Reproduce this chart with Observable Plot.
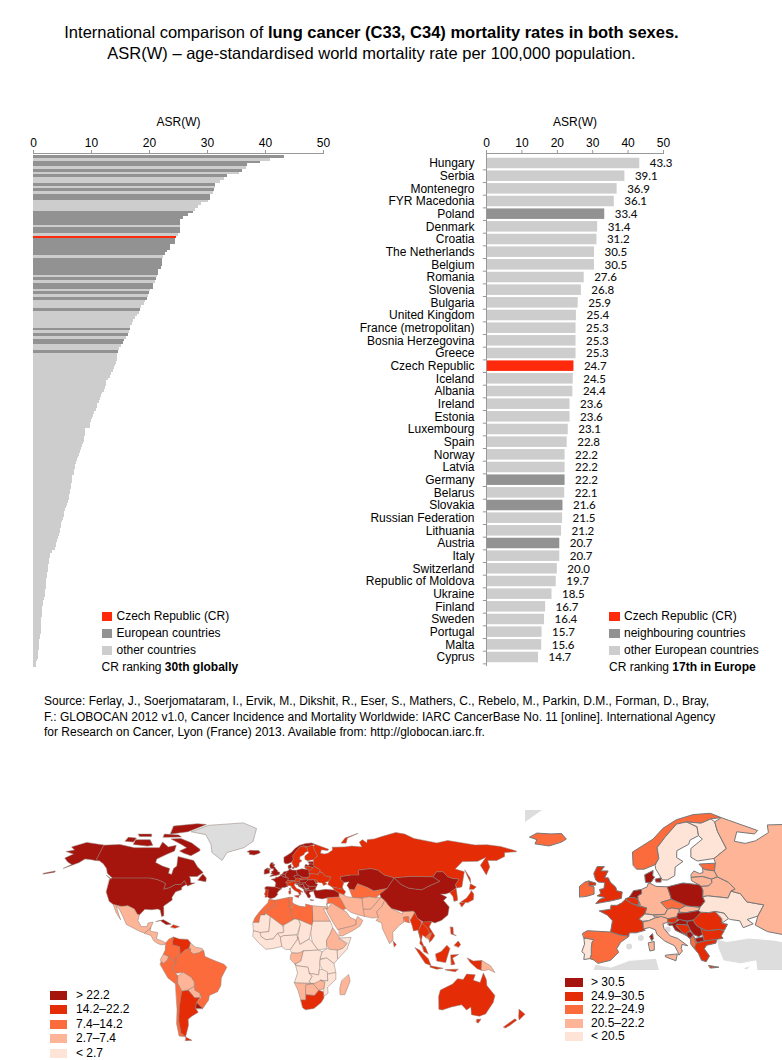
<!DOCTYPE html>
<html>
<head>
<meta charset="utf-8">
<script src="https://cdn.jsdelivr.net/npm/d3@7"></script>
<script src="https://cdn.jsdelivr.net/npm/@observablehq/plot@0.6"></script>
<style>
html,body{margin:0;padding:0;background:#fff}
#page{position:relative;width:782px;height:1060px;overflow:hidden;font-family:"Liberation Sans",Arial,sans-serif;color:#000}
#page svg{position:absolute;background:transparent}
.t{position:absolute;white-space:nowrap}
.sw{position:absolute}
</style>
</head>
<body>
<div id="page"></div>
<script>
// ---------- bar chart data ----------
const countries = ["Hungary","Serbia","Montenegro","FYR Macedonia","Poland","Denmark","Croatia","The Netherlands","Belgium","Romania","Slovenia","Bulgaria","United Kingdom","France (metropolitan)","Bosnia Herzegovina","Greece","Czech Republic","Iceland","Albania","Ireland","Estonia","Luxembourg","Spain","Norway","Latvia","Germany","Belarus","Slovakia","Russian Federation","Lithuania","Austria","Italy","Switzerland","Republic of Moldova","Ukraine","Finland","Sweden","Portugal","Malta","Cyprus"];
const europeRates = [43.3,39.1,36.9,36.1,33.4,31.4,31.2,30.5,30.5,27.6,26.8,25.9,25.4,25.3,25.3,25.3,24.7,24.5,24.4,23.6,23.6,23.1,22.8,22.2,22.2,22.2,22.1,21.6,21.5,21.2,20.7,20.7,20.0,19.7,18.5,16.7,16.4,15.7,15.6,14.7];
const neighbours = ["Poland","Germany","Slovakia","Austria"];
const crName = "Czech Republic";
const globalRates = [43.3,40.9,39.1,36.9,36.8,36.1,35.5,33.4,33.0,32.2,31.4,31.3,31.2,31.0,30.5,30.5,30.1,28.9,28.4,28.0,27.6,26.8,25.9,25.4,25.3,25.3,25.3,25.3,25.0,24.7,24.5,24.4,23.6,23.6,23.1,22.8,22.4,22.2,22.2,22.2,22.1,21.6,21.5,21.3,21.2,21.0,20.7,20.7,20.1,20.0,19.8,19.7,19.3,19.1,18.7,18.5,18.2,17.9,17.5,17.2,17.0,16.8,16.7,16.5,16.4,16.0,15.7,15.6,15.2,14.9,14.7,
14.5,14.4,14.4,14.3,14.2,13.9,13.8,13.4,13.2,13.0,12.6,12.5,12.4,12.2,11.9,11.7,11.5,11.3,11.1,11.0,10.8,10.6,10.4,10.2,10.0,9.9,9.8,9.0,8.9,8.9,8.8,8.8,8.7,8.5,8.3,8.1,7.9,7.8,7.6,7.4,7.2,7.2,7.1,7.1,6.8,6.7,6.7,6.6,6.5,6.4,6.3,6.2,6.2,6.1,5.9,5.7,5.5,5.4,5.3,5.1,5.0,4.9,4.8,4.7,4.6,4.4,4.3,4.2,4.0,3.9,3.8,3.2,3.0,2.9,2.8,2.7,2.6,2.5,2.5,2.4,2.4,2.3,2.3,2.2,2.2,2.1,2.0,2.0,1.9,1.8,1.7,1.6,1.6,1.5,1.5,1.4,1.4,1.4,1.3,1.3,1.3,1.2,1.2,1.1,1.1,1.0,1.0,0.9,0.9,0.8,0.7,0.6,0.5];
const europeRanks = [0,2,3,5,7,10,12,14,15,20,21,22,23,24,26,27,30,31,32,33,34,35,37,38,39,40,41,42,44,46,47,49,51,55,62,64,66,67,70];
const crRank = 29;
const xTicks = [0,10,20,30,40,50];

// ---------- colours ----------
const barKinds = ["cr","eu","other"];
const barColours = ["#ff2a0c","#929292","#cdcdcd"];
const mapClasses = [0,1,2,3,4,5];
const mapColours = ["#a6140e","#e42c07","#fc6b3c","#fdb497","#fee4d7","#dddddd"];

// ---------- legends ----------
const worldLegend = ["> 22.2","14.2–22.2","7.4–14.2","2.7–7.4","< 2.7"];
const europeLegend = ["> 30.5","24.9–30.5","22.2–24.9","20.5–22.2","< 20.5"];

// ---------- map outlines [name, class, ring of lon/lat] ----------
// European countries: [name, world-map class, inset class, ring]
const europeShapes = [
["Iceland",0,2,[[-24,65.5],[-22,66.4],[-18,66.2],[-15,66.3],[-13.6,65],[-15,64.3],[-18.5,63.4],[-22.5,63.9],[-22,64.8]]],
["Ireland",0,2,[[-10,51.6],[-10,54],[-8.5,55],[-7.3,55.3],[-7.3,54.2],[-6,53.9],[-6,52.2],[-8,51.7]]],
["N. Ireland",0,1,[[-7.3,55.2],[-5.5,54.8],[-5.5,54.3],[-7.3,54.2]]],
["Great Britain",0,1,[[-5.5,50],[-3.5,50.3],[-1,50.7],[1.4,51.2],[1.7,52.7],[0.2,53],[0,53.8],[-1.5,55],[-2,56],[-3,56],[-2,57.6],[-4,57.6],[-3,58.6],[-5,58.6],[-6,57],[-5.5,55.5],[-4.8,55],[-3,54.9],[-3.3,53.5],[-4.5,53.3],[-4.2,52.3],[-5.2,51.8],[-3,51.4],[-4.5,51]]],
["France",0,1,[[-1.8,43.4],[-1.2,46],[-2.5,47.3],[-4.7,48.3],[-1.6,48.7],[-1.5,49.6],[0.2,49.6],[1.5,50.2],[2.5,51],[4.2,50],[5.8,49.5],[8.2,49],[7.6,47.6],[6,46.4],[7,45.8],[7,44.2],[7.5,43.8],[5,43.2],[3.2,43.2],[3,42.4],[0.7,42.7]]],
["Corsica",0,0,[[8.6,42.4],[9.4,43],[9.5,41.8],[9.1,41.4]]],
["Spain",0,2,[[-9.2,43.1],[-8,43.7],[-1.8,43.4],[0.7,42.7],[3.1,42.4],[0.8,41],[-0.3,39.5],[0.2,38.7],[-2,36.8],[-5.3,36.1],[-6.4,36.9],[-7.4,37.2],[-7,38.2],[-7,39.6],[-6.8,41],[-8.2,41.9],[-8.9,42]]],
["Portugal",1,4,[[-8.8,41.9],[-8.2,41.9],[-6.3,41.6],[-6.8,41],[-7,39.6],[-7,38.2],[-7.4,37.2],[-9,37],[-8.8,38.3],[-9.5,38.8],[-8.8,40.5]]],
["Netherlands",0,0,[[3.4,51.4],[4,52],[4.8,53],[7,53.3],[7,52.3],[6,51.8],[6,50.8],[5,51.4]]],
["Belgium",0,1,[[2.5,51.1],[3.4,51.4],[5,51.4],[6,50.8],[6.1,50.1],[5.8,49.6],[4.2,50]]],
["Luxembourg",0,2,[[5.8,49.5],[6.1,50.1],[6.5,49.8],[6.3,49.5]]],
["Germany",0,3,[[6,51.8],[7,52.3],[7,53.3],[8.6,53.9],[9,54.8],[10,54.5],[11,54],[14.2,53.9],[14.7,52.2],[15,51],[12.2,50.3],[13.8,48.7],[13,47.5],[10,47.4],[7.6,47.6],[8.2,49],[6.3,49.5],[6.5,49.8],[6,50.8]]],
["Jutland",0,0,[[8.2,55],[8.1,56.7],[10.5,57.7],[10.3,56.5],[10.8,56.2],[9.8,55]]],
["Zealand",0,0,[[11,55.7],[12.6,56],[12.5,55],[11.2,55]]],
["Norway",0,2,[[5,59],[5,62],[8,63.5],[11,65],[14,67.5],[18,69.5],[23,70.7],[28,71],[31,70],[28,69.7],[25,68.7],[21,69],[18,68.5],[14.5,65.5],[12,63],[12.3,60.5],[11,59],[8,58],[6,58]]],
["Sweden",1,4,[[11.2,59],[12.3,60.5],[12,63],[14.5,65.5],[18,68.5],[21,69],[23.8,67.8],[24,65.8],[21.5,64.8],[21,63.8],[17.5,62.3],[17.3,60.7],[19,59.8],[16.7,58.5],[16.4,56.5],[14.3,55.5],[12.9,55.5],[11.3,58]]],
["Finland",1,4,[[21,69],[25,68.7],[28,69.7],[29,69],[29.5,66.8],[31.5,62.8],[27.8,60.5],[23,59.9],[21.3,60.8],[21.5,62.8],[25,65],[24,65.8],[23.8,67.8]]],
["Estonia",0,2,[[23.5,59.2],[28,59.4],[27.5,57.6],[25,57.9],[24.3,58.3]]],
["Latvia",0,3,[[21,56.8],[21.8,57.6],[23.3,57],[24.3,57.2],[24.3,58.3],[25,57.9],[27.5,57.6],[28.2,56.2],[26.5,55.7],[24,56.3],[21,56.1]]],
["Lithuania",1,3,[[21,56.1],[24,56.3],[26.5,55.7],[26.5,54.9],[25.5,54.1],[23.5,54],[22.8,54.4],[21,55.3]]],
["Belarus",1,3,[[23.5,54],[25.5,54.1],[26.5,54.9],[26.5,55.7],[28.2,56.2],[31,55],[32.7,53.4],[31.5,52.9],[30.5,51.3],[25,51.8],[23.6,51.6],[23.8,53]]],
["Poland",0,0,[[14.2,53.9],[18.5,54.8],[22.8,54.4],[23.5,54],[23.8,53],[23.6,51.6],[24.1,50.5],[22.7,49.2],[19,49.4],[15,51],[14.7,52.2]]],
["Czech Republic",0,2,[[12.2,50.3],[15,51],[18.8,49.6],[17,48.7],[15,49],[13.8,48.7]]],
["Slovakia",1,3,[[17,48.7],[18.8,49.5],[22.5,49.1],[22.2,48.4],[18.8,47.9],[17.1,48]]],
["Austria",1,3,[[9.6,47.3],[13,47.5],[13.8,48.7],[15,49],[17,48.7],[16.5,47],[14,46.5],[10.5,46.9]]],
["Switzerland",1,4,[[6,46.4],[7.6,47.6],[9.6,47.4],[10.4,46.7],[8.5,46],[7,45.9]]],
["Italy",1,3,[[7,44.2],[7,45.8],[8.5,46],[10.4,46.7],[12,47],[13.7,46.5],[13.7,45.7],[12.3,45.3],[12.5,44.2],[14,42.5],[16,41.9],[18.5,40.2],[17,40.5],[16.7,39.5],[17,39],[16,38],[15.7,38.9],[15,40.2],[12.5,41.3],[10.5,42.9],[10.2,43.9],[8.8,44.4]]],
["Sicily",1,3,[[12.5,38],[15.6,38.3],[15.1,36.7],[12.5,37.6]]],
["Sardinia",1,3,[[8.2,40.9],[9.7,41.2],[9.6,39.2],[8.5,39]]],
["Slovenia",0,1,[[13.7,45.6],[13.7,46.5],[16.3,46.8],[16.5,46.4],[15.3,45.5]]],
["Hungary",0,0,[[16.1,46.8],[16.5,47.8],[18.8,47.9],[22.2,48.4],[22.8,48],[21,46.3],[18.8,45.9],[16.9,46]]],
["Croatia",0,0,[[13.6,45.3],[15.3,45.5],[16.9,46.3],[18.8,45.9],[19,45],[16,45.2],[15.8,44.7],[17.5,43.2],[18.5,42.5],[15.5,43.8],[14.8,45],[14,44.9]]],
["Bosnia",0,1,[[15.8,44.9],[16,45.2],[19,45],[19.5,43.9],[18.5,42.7],[17.5,43.2]]],
["Serbia",0,0,[[18.8,45.9],[20.5,46.1],[21.4,44.8],[22.6,44.2],[22.8,42.9],[21.6,42.3],[20.3,42.8],[19.5,43.9],[19,45]]],
["Montenegro",0,0,[[18.5,42.5],[18.5,43.3],[19.5,43.5],[20.2,42.7],[19.3,41.9]]],
["Albania",0,2,[[19.4,41.9],[20.3,42.5],[20.7,41],[20.8,40.3],[20,39.7],[19.4,40.5]]],
["Macedonia",0,0,[[20.6,41.9],[22.8,42.3],[23,41.3],[21,40.9]]],
["Greece",0,1,[[20.2,39.6],[20.8,40.8],[23,41.3],[26.3,41.7],[26,40.8],[23.5,40.3],[22.8,39.5],[24,37.8],[23,36.5],[21.8,36.8],[21.2,38.3]]],
["Crete",0,1,[[23.6,35.6],[26.2,35.2],[24,35]]],
["Bulgaria",0,1,[[22.4,44.2],[24,43.7],[27.5,44],[28.5,43.6],[27.6,42.5],[28,41.9],[26.3,41.7],[23,41.3],[22.8,42.3]]],
["Romania",0,1,[[20.5,46.1],[22.8,48],[24.8,47.9],[26.6,48.2],[28.2,46.5],[28.2,45.4],[29.6,45.2],[28.6,43.8],[27,44],[24,43.7],[22.6,44.2],[21.4,44.8]]],
["Moldova",1,4,[[26.6,48.2],[29,47.8],[30,46.5],[28.2,45.5],[28.2,46.5]]],
["Ukraine",1,4,[[22.2,48.4],[22.7,49.2],[24.1,50.5],[23.6,51.6],[25,51.8],[30.5,51.3],[31.5,52.9],[34,52.3],[35.5,50.4],[40,49.7],[38,47.1],[35,46.3],[36.5,45.3],[33.7,44.4],[33,46],[30.5,46.3],[30,46.5],[29,47.8],[26.6,48.2],[24.8,47.9],[22.8,48]]],
["Russia",1,3,[[27.8,60.5],[31.5,62.8],[29.5,66.8],[29,69],[31,70],[33,69.4],[41,67],[40,66.2],[35,66.7],[34,64.5],[37,64],[40,64.6],[44,66.5],[44,68.3],[54,68.5],[60,69],[68,68.5],[67,71.5],[70,73],[73,71],[74,73],[80,73.5],[87,75],[100,77.5],[107,76.5],[113,73.8],[130,71],[140,72.5],[160,69.7],[170,69.8],[180,68.8],[190,66],[190,65.5],[180,65],[178,62.5],[170,60],[163,60],[162,56],[156.5,51],[155.5,57],[163,62],[155,59.5],[143,59.3],[135,54.7],[141,53],[135,43.5],[131,42.8],[131,45],[135,48.4],[130,48.9],[127,50],[125,53],[120,53],[116,49.9],[107,50],[98,50],[87,49.2],[80,51],[76,54],[71,55],[61,54],[61,51],[55,51],[47,50],[47,48],[49,46.3],[47.5,43.5],[48,42],[44,42.8],[40,43.5],[37,45],[38,47.1],[40,49.7],[35.5,50.4],[34,52.3],[31.5,52.9],[32.7,53.4],[31,55],[28.2,56.2],[27.5,57.6],[28,59.4]]]
];
const insetGrey = [
["Greenland",[[-73,78],[-60,82],[-30,83.5],[-18,80],[-20,72],[-27,68],[-40,65],[-43,60],[-52,65],[-54,70],[-60,76]]],
["Maghreb",[[-6,35.9],[-2,35.2],[3,36.8],[10,37.3],[11,33],[15.5,31.5],[20,31],[20,32.8],[25,31.7],[32,31.2],[34,25],[-8,25],[-10,31],[-7,33.5]]],
["Turkey",[[26.3,41.7],[29,41.2],[35,42],[41.5,41.5],[50,40],[50,30],[36,30],[36,36.7],[32,36],[27.5,36.7],[26.5,39.5]]],
["Cyprus",[[32.3,35],[34.5,35.6],[33.5,34.6]]]
];
const insetDots = [[3,40],[6.2,42],[13.5,44]];
const northAmerica = [
["Greenland",5,[[-73,78],[-60,82],[-30,83.5],[-18,80],[-20,72],[-27,68],[-40,65],[-43,60],[-52,65],[-54,70],[-60,76]]],
["Canada",0,[[-141,69.6],[-128,70],[-115,68],[-108,68],[-95,68],[-94,71.5],[-88,68.5],[-82,69.5],[-82,66],[-87,64],[-94,61],[-94,58.7],[-88,56.5],[-82,55],[-82,52],[-79.5,51.3],[-79,55],[-77,56.5],[-78,62.5],[-70,61],[-65,60],[-61,56],[-56,52.5],[-60,50],[-66,50],[-65,49],[-64,46],[-61,46],[-66,44],[-67,45],[-69,47.4],[-71,45],[-75,45],[-79,43],[-83,42],[-82.5,45.5],[-84.5,46.5],[-89,48],[-95,49],[-123,49],[-128,52],[-130,55],[-134,58],[-138,59.8],[-141,60]]],
["Alaska",0,[[-141,69.7],[-156,71.3],[-166,68.5],[-162,66.5],[-168,65.6],[-161,64],[-166,61.5],[-162,59],[-158,57.5],[-163,55],[-153,58.7],[-150,61],[-146,60.7],[-141,60]]],
["Aleutians",0,[[-176,52],[-168,53.5],[-168,52.7],[-176,51.5]]],
["USA",0,[[-124.7,48.4],[-123,49],[-95,49],[-89,48],[-84.5,46.5],[-82.5,45.5],[-83,42],[-79,43],[-75,45],[-71,45],[-69,47.4],[-67,45],[-70,43.5],[-70,41.7],[-74,40.5],[-76,37],[-75.5,35.3],[-81,31.5],[-80,25.5],[-81.5,25],[-83,29],[-85,29.7],[-89,29.2],[-94,29.5],[-97.3,26],[-99,26.5],[-101.5,29.7],[-106.5,31.7],[-111,31.3],[-117,32.5],[-120.5,34.5],[-124.3,40.3]]],
["Baffin",0,[[-62,66],[-68,63],[-74,64.5],[-78,66],[-73,68],[-78,70],[-88,73.5],[-80,73.7],[-70,71],[-62,67]]],
["Victoria",0,[[-117,70],[-105,69],[-101,69.5],[-105,73],[-117,73]]],
["Banks",0,[[-125,72],[-118,71.5],[-117,74],[-124,74.5]]],
["Ellesmere",0,[[-90,76.5],[-76,78],[-62,82.5],[-70,83],[-90,81.5]]],
["Devon",0,[[-95,74.5],[-80,74.7],[-83,76],[-95,76.5]]],
["Melville",0,[[-115,75],[-105,75],[-106,76.5],[-117,76.5]]],
["Newfoundland",0,[[-59,47.7],[-53,46.7],[-53,49],[-56,51.5]]],
["Vancouver",0,[[-128,50.7],[-123.5,48.4],[-125,48.9]]],
["Mexico",3,[[-117,32.5],[-111,31.3],[-106.5,31.7],[-101.5,29.7],[-99,26.5],[-97.3,26],[-97.8,22.5],[-95,18.7],[-91,18.7],[-90.5,21],[-87,21.5],[-88.2,18],[-92.2,14.6],[-96,15.8],[-105.5,20],[-109,25.5],[-112.5,30],[-114.7,31.5],[-112,26.5],[-110,23],[-114,27.5],[-115.5,30]]],
["Central America",3,[[-92.2,14.6],[-88.2,18],[-88.5,15.8],[-83.2,15],[-83.7,11],[-79.5,9.6],[-77.3,8.5],[-78,7.5],[-80.5,7.3],[-83,8.2],[-85.8,10],[-87.6,13]]],
["Cuba",0,[[-85,21.8],[-80,23],[-74.2,20.2],[-77.7,19.9],[-82,22.4]]],
["Hispaniola",1,[[-74.4,18.4],[-72.8,19.9],[-68.4,18.6],[-71.4,17.7]]]
];
const southAmerica = [
["Colombia",2,[[-77.3,8.5],[-75,11],[-72,12.2],[-72.5,7.4],[-67.5,6.2],[-67,1.2],[-70,-0.5],[-70,-4.2],[-75,-0.1],[-78.8,1.4],[-77.5,4]]],
["Venezuela",1,[[-72,12.2],[-68,11],[-62,10.7],[-60,8.5],[-61,5],[-64,4],[-67,1.2],[-67.5,6.2],[-72.5,7.4]]],
["Guianas",3,[[-60,8.4],[-57,6],[-52,5],[-51.7,4],[-54,2.3],[-58,1.5],[-60,3],[-61,5]]],
["Ecuador",3,[[-80.8,-2],[-78.8,1.4],[-75,-0.1],[-76,-2.5],[-78.5,-4.5],[-80.3,-3.4]]],
["Peru",2,[[-81,-5],[-80.3,-3.4],[-78.5,-4.5],[-76,-2.5],[-75,-0.1],[-70,-4.2],[-73,-7],[-70.6,-11],[-69,-12.5],[-69.5,-17.5],[-71,-18],[-76,-14]]],
["Brazil",2,[[-70,-4.2],[-70,-0.5],[-67,1.2],[-64,4],[-60,5],[-60,3],[-58,1.5],[-54,2.3],[-51,4],[-50,0],[-44,-2.5],[-37,-5],[-35,-7],[-39,-14],[-39.5,-19],[-42,-23],[-48,-25.5],[-48.7,-28.5],[-53.5,-34],[-57.5,-30],[-54,-27],[-54.5,-24],[-58,-22],[-58,-16.5],[-60,-13.5],[-65,-10.5],[-70.6,-11],[-73,-7]]],
["Bolivia",3,[[-69.5,-17.5],[-69,-12.5],[-65,-10.5],[-60,-13.5],[-58,-16.5],[-58,-19.8],[-62.5,-22],[-67,-22.7]]],
["Paraguay",3,[[-58,-19.8],[-58,-22],[-54.5,-24],[-54.7,-27],[-58.5,-27],[-62.5,-22]]],
["Chile",2,[[-71,-18],[-69.5,-17.5],[-67,-22.7],[-70,-33],[-72,-42],[-72,-50],[-69,-52.5],[-74,-52],[-74,-44],[-72,-35]]],
["Argentina",1,[[-67,-22.7],[-62.5,-22],[-58.5,-27],[-54.7,-27],[-57.5,-30],[-58.5,-34],[-57,-36.5],[-62,-39],[-65,-41],[-65.5,-45],[-69,-52],[-69,-52.5],[-72,-50],[-72,-42],[-70,-33]]],
["Fuego",1,[[-69,-52.8],[-65,-54.8],[-70,-55]]],
["Uruguay",0,[[-58.5,-34],[-57.5,-30],[-53.5,-34]]]
];
const africa = [
["Morocco",2,[[-6,35.9],[-2,35.2],[-1.5,32],[-8.7,28.5],[-8.7,26],[-12,26],[-13,21.3],[-17,21.3],[-16,24],[-13,27.7],[-9.8,31],[-7,33.5]]],
["Algeria",2,[[-2,35.2],[8.5,37],[8,32],[9.5,30],[10,25],[12,23.5],[3.3,19],[1,21],[-8.7,27],[-8.7,28.5],[-1.5,32]]],
["Tunisia",2,[[8.5,37],[11,37],[10.5,34],[11.5,33],[9,30.2],[8,32]]],
["Libya",2,[[11.5,33],[15.5,31.5],[20,31],[20,32.8],[25,31.7],[25,20],[24,19.5],[15,23],[12,23.5],[10,25],[9.5,30]]],
["Egypt",3,[[25,31.7],[32,31.2],[34.3,31.2],[34.9,29.5],[32.5,29.8],[37,22],[25,22]]],
["Sudan",4,[[25,22],[37,22],[38.5,18],[36.5,14],[34,10],[34,5],[28,4],[24,9],[23,15],[24,19.5]]],
["Mauritania",4,[[-17,21.3],[-13,21.3],[-12,26],[-8.7,26],[-8.7,27],[-5,25],[-6,15.5],[-12,15],[-16.5,16]]],
["Mali",4,[[-12,15],[-6,15.5],[-5,25],[1,21],[4,19],[4,15],[0,14.5],[-3,11],[-8,10.5],[-11.5,12.5]]],
["Niger",4,[[4,19],[3.3,19],[12,23.5],[15,23],[16,20],[13.5,13.5],[4,13],[2,12],[0,14.5],[4,15]]],
["Chad",4,[[15,23],[24,19.5],[23,15],[22,11],[15.5,7.5],[14,12.5],[16,20]]],
["West coast",4,[[-16.5,16],[-12,15],[-11.5,12.5],[-8,10.5],[-3,11],[0,14.5],[2,12],[3,6.3],[-3,5],[-8,4.5],[-13,8.5],[-17,12.5]]],
["Nigeria",4,[[3,6.3],[2,12],[4,13],[13.5,13.5],[14,11],[9,4.5],[6,4.3]]],
["Cameroon CAR",4,[[9,4.5],[14,11],[14,12.5],[15.5,7.5],[22,11],[24,9],[28,4],[18,3.5],[16,2],[10,2.2]]],
["Gabon Congo",3,[[9,1],[10,2.2],[14,2],[18,3.5],[16,-3],[12,-5],[9,-2]]],
["DR Congo",4,[[18,3.5],[28,4],[31,3],[29.5,-2],[29,-8],[28.5,-12],[22,-11],[21,-7],[13,-6],[12.3,-5],[16,-3]]],
["Ethiopia",3,[[36.5,14],[38.5,18],[43,12],[42.5,11],[48,8],[45,5],[41,4],[36,4.5],[34,7],[34,10]]],
["Somalia",4,[[43,11.5],[51,12],[48,4.5],[41.5,-1.7],[41,3.8],[45,5],[48,8]]],
["Kenya Uganda",4,[[31,3],[34,5],[36,4.5],[41,4],[41.5,-1.7],[39,-4.7],[34,-1],[29.5,-1.5]]],
["Tanzania",4,[[29.5,-2],[34,-1],[39,-4.7],[40.4,-10.5],[34.5,-11.5],[31,-8.5],[29.5,-6]]],
["Angola",4,[[12.3,-5],[13,-6],[21,-7],[22,-11],[24,-13],[22,-16.5],[23.5,-17.5],[13,-17.3],[11.8,-17],[13.8,-11]]],
["Zambia Malawi",4,[[22,-11],[28.5,-12],[29,-8.3],[31,-8.5],[34.5,-10],[35,-16],[30,-15.5],[28,-17.5],[23.5,-17.5],[22,-16.5],[24,-13]]],
["Namibia",3,[[11.8,-17],[13,-17.3],[25,-17.8],[20,-18.5],[20,-28.5],[16.5,-28.5],[14.5,-22.5]]],
["Botswana",3,[[20,-18.5],[25,-17.8],[29,-22],[26,-25.5],[20,-25]]],
["Zimbabwe",3,[[25.3,-17.8],[30,-15.5],[33,-17],[32.5,-21],[29,-22]]],
["Mozambique",4,[[30,-15.5],[35,-16],[34.5,-11.5],[40.4,-10.5],[40.5,-15],[35,-20],[35.5,-24],[32.8,-26],[32,-23],[32.5,-21],[33,-17]]],
["South Africa",1,[[16.5,-28.5],[20,-28.5],[20,-25],[26,-25.5],[29,-22],[32,-23],[32.8,-27],[31,-30],[26,-34],[20,-34.8],[18,-33.5]]],
["Madagascar",3,[[49.3,-12],[50.5,-16],[47.3,-25],[44,-25],[43.5,-21],[44.5,-16]]]
];
const asiaOceania = [
["Novaya Zemlya",1,[[52,71],[56,74],[68,77],[58,74],[56,71]]],
["Turkey",0,[[26.3,41.7],[29,41.2],[35,42],[41.5,41.5],[44.7,39.7],[44.5,37.2],[36,36.7],[32,36],[27.5,36.7],[26.5,39.5]]],
["Caucasus",1,[[40,43.5],[44,42.8],[48,42],[49.5,40.5],[48,38.5],[44.7,39.7],[41.5,41.5]]],
["Syria Iraq",2,[[36,36.7],[44.5,37.2],[46,35],[48.5,30],[46.5,29],[42,31.5],[38.8,33.4],[35,33],[35.5,31],[35,29.5]]],
["Iran",3,[[44.7,39.7],[48,38.5],[50,37.3],[54,37],[61,36.5],[61,31.5],[63,27],[61.5,25],[57,26],[52,27.5],[48.5,30],[46,35],[44.5,37.2]]],
["Saudi Arabia",3,[[35,29.5],[38.8,33.4],[42,31.5],[46.5,29],[48.5,28],[51,24.5],[55,22.8],[55,20],[52,19],[43,17],[42,16.5],[39,21],[35,28]]],
["Yemen Oman",3,[[43,17],[52,19],[55,20],[55,22.8],[56.3,25],[59.8,22.5],[57.5,19],[52,16],[45,12.8],[43,13]]],
["Kazakhstan",0,[[47,50],[55,51],[61,51],[61,54],[71,55],[76,54],[80,51],[87,49.2],[80,42.5],[70,41],[66,43],[59,45.5],[56,41.5],[52.5,42],[51,44.5],[53,46.7],[49,46.3],[47,48]]],
["Central Asia",2,[[52.5,42],[56,41.5],[59,45.5],[66,43],[70,41],[80,42.5],[74,39],[71,36.7],[66,37.3],[61,36.5],[54,37],[53,40]]],
["Afghanistan",3,[[61,36.5],[66,37.3],[71,36.7],[74.5,37],[70,33],[66,29.5],[61,29.5]]],
["Pakistan",3,[[61,29.5],[66,29.5],[70,33],[74.5,37],[77,35],[74,31],[70,28],[71,24.5],[67,24],[61.5,25]]],
["India",3,[[77,35],[79,32],[81,30],[88,26.5],[88.5,28],[96,28.5],[97,27.5],[93,22.5],[92,25],[88.5,24.5],[88.5,21.5],[85,19.5],[80,15],[80,10.5],[77.5,8],[73,17.5],[72.8,21],[69,22.5],[71,24.5],[70,28],[74,31]]],
["Bangladesh",2,[[88.5,24.5],[92,25],[92.3,21],[89,21.8]]],
["Sri Lanka",1,[[80,9.7],[82,7.5],[80.7,6]]],
["China",0,[[74,39],[80,42.5],[87,49.2],[91,45],[96,42.7],[105,41.7],[111,44],[120,47],[116,49.9],[120,53],[125,53],[127,50],[130,48.9],[135,48.4],[131,45],[130.5,42.7],[125,40],[121.5,39],[118,39],[122,37],[119,35],[122,31],[120,26],[115,22.6],[110,21],[108,21.7],[102,21.5],[98,24],[97,27.5],[96,28.5],[88.5,28],[81,30],[79,32],[77,35],[74.5,37]]],
["Mongolia",0,[[87,49.2],[98,50],[107,50],[116,49.9],[120,47],[111,44],[105,41.7],[96,42.7],[91,45]]],
["Korea",1,[[125,40],[130.5,42.7],[129.5,37],[129,35],[126.3,34.5],[126.5,37.5]]],
["Honshu",1,[[131,34],[136,36.5],[140,40],[141,41.2],[142,39],[140.5,35.5],[136,33.7]]],
["Hokkaido",1,[[140,42],[142,45.5],[145.5,43.5],[143,42]]],
["Kyushu",1,[[130,33.5],[134,34],[134,33.5],[131,31]]],
["Sakhalin",1,[[142,54],[143.5,49],[142.5,46],[142,50]]],
["Myanmar",1,[[93,22.5],[97,27.5],[98,24],[101,21.5],[98,16],[99,10.5],[97.7,16.5],[94.5,16],[94,19]]],
["Thailand",1,[[98,16],[101,21],[104.5,17.5],[105.5,14.5],[102.5,12],[100.5,13.5],[99.5,10],[101,6.7],[100,6.5],[98.3,8],[99,11]]],
["Vietnam Laos",1,[[102,21.5],[108,21.7],[105.7,18.5],[109,13],[107,10.5],[105,8.8],[105,10.8],[107,14.7],[105.5,14.5],[104.5,17.5],[101,21]]],
["Cambodia",2,[[102.5,12],[105.5,14.5],[107,14.7],[105,10.6]]],
["Malaya",1,[[100,6.5],[102,6.2],[104,1.5],[101,3]]],
["Sumatra",1,[[95,5.5],[98,4],[104,-1.5],[106,-5.9],[102,-4.5],[97,2.5]]],
["Java",1,[[105.5,-6],[114.5,-7.7],[110,-8.3],[105.5,-7]]],
["Borneo",1,[[109,1.5],[113,3.2],[117,7],[119,5],[117.5,1],[116,-4],[110,-3]]],
["Sulawesi",1,[[119.5,1],[125,1.3],[120.7,-1],[122.5,-5],[120,-5.5]]],
["Luzon",1,[[120.5,18.5],[122.3,18.3],[122,14],[124,13],[120.5,14]]],
["Mindanao",1,[[122,7],[125,9.7],[126.5,7.5],[125,5.8]]],
["West Papua",1,[[131,-1],[135,-3],[141,-2.6],[141,-9],[138,-8],[133,-4]]],
["Papua New Guinea",3,[[141,-2.6],[147,-6],[150.5,-10.5],[146,-8.5],[143,-9.2],[141,-9]]],
["Sunda",1,[[116,-8.5],[125,-8.3],[123,-10],[117,-9]]],
["Australia",1,[[114,-22],[113.5,-26],[115.5,-34.5],[118,-35],[124,-33],[131,-31.5],[135.5,-35],[138,-33],[140,-38],[146,-39],[150,-37.5],[153,-30],[153,-25.5],[146,-19],[145,-15],[142.5,-10.8],[141,-17],[136,-15.5],[137,-12],[131,-11.5],[129,-15],[125,-14.5],[122,-18],[117,-20.5]]],
["Tasmania",1,[[145,-41],[148,-41],[147,-43.5],[145.5,-43]]],
["South Island",1,[[166.7,-46],[172.5,-40.7],[174.3,-41.7],[171,-45],[168.5,-46.7]]],
["North Island",1,[[173,-34.5],[178.5,-37.7],[176,-41.5],[174.7,-39.5]]]
];

// ---------- helpers ----------
const page = document.getElementById("page");
const FONT = '"Liberation Sans",Arial,sans-serif';
function place(el, left, top){ el.style.left = left+"px"; el.style.top = top+"px"; page.appendChild(el); return el; }
function text(html, left, top, css){ const d = document.createElement("div"); d.className="t"; d.innerHTML = html; Object.assign(d.style, css||{}); return place(d,left,top); }
function swatch(colour,left,top,w,h){ const d=document.createElement("div"); d.className="sw"; d.style.background=colour; d.style.width=w+"px"; d.style.height=h+"px"; return place(d,left,top); }
function feature(cls, ring){ return {type:"Feature", properties:{cls}, geometry:{type:"Polygon", coordinates:[ring.concat([ring[0]])]}}; }

// ---------- title and source ----------
text('International comparison of <b>lung cancer (C33, C34) mortality rates in both sexes.</b>',0,23,{width:"743px",textAlign:"center",fontSize:"16.5px"});
text('ASR(W) – age-standardised world mortality rate per 100,000 population.',0,44,{width:"743px",textAlign:"center",fontSize:"16.5px"});
const sourceLines = ["Source: Ferlay, J., Soerjomataram, I., Ervik, M., Dikshit, R., Eser, S., Mathers, C., Rebelo, M., Parkin, D.M., Forman, D., Bray,","F.: GLOBOCAN 2012 v1.0, Cancer Incidence and Mortality Worldwide: IARC CancerBase No. 11 [online]. International Agency","for Research on Cancer, Lyon (France) 2013. Available from: http://globocan.iarc.fr."];
sourceLines.forEach((s,i)=>text(s,44,694+i*15.5,{fontSize:"12px"}));

// ---------- left chart ----------
const globalRows = globalRates.map((v,i)=>({i,v,kind:i===crRank?"cr":europeRanks.includes(i)?"eu":"other"}));
const left = Plot.plot({
  width:340,height:672,marginTop:153,marginLeft:33,marginRight:17,marginBottom:5,
  style:{fontFamily:FONT,fontSize:"12px",color:"#000"},
  x:{domain:[0,50],range:[33,323]},
  y:{domain:globalRows.map(d=>d.i),range:[155,667],padding:0,round:false,axis:null},
  color:{domain:barKinds,range:barColours},
  marks:[
    Plot.barX(globalRows,{x:"v",y:"i",fill:"kind",shapeRendering:"crispEdges"}),
    Plot.frame({anchor:"top",stroke:"#999"}),
    Plot.axisX({anchor:"top",ticks:xTicks,tickSize:4,tickPadding:3,stroke:"#999",fontSize:12,fill:"#000",label:"ASR(W)",labelArrow:"none",labelAnchor:"center",labelOffset:36})
  ]
});
place(left,0,0);

// ---------- right chart ----------
const europeRows = countries.map((c,i)=>({c,v:europeRates[i],kind:c===crName?"cr":neighbours.includes(c)?"eu":"other"}));
const right = Plot.plot({
  width:390,height:672,marginTop:153,marginLeft:146,marginRight:67,marginBottom:7,
  style:{fontFamily:FONT,fontSize:"12px",color:"#000"},
  x:{domain:[0,50],range:[146,323]},
  y:{domain:countries,range:[155.6,664.4],padding:0.17,round:false},
  color:{domain:barKinds,range:barColours},
  marks:[
    Plot.barX(europeRows,{x:"v",y:"c",fill:"kind"}),
    Plot.frame({anchor:"top",stroke:"#999"}),
    Plot.frame({anchor:"left",stroke:"#999"}),
    Plot.ruleY(countries,{y:d=>d,x1:-0.9,x2:0,dy:6.36,stroke:"#999"}),
    Plot.axisX({anchor:"top",ticks:xTicks,tickSize:4,tickPadding:3,stroke:"#999",fontSize:12,fill:"#000",label:"ASR(W)",labelArrow:"none",labelAnchor:"center",labelOffset:36}),
    Plot.axisY({anchor:"left",tickSize:0,tickPadding:12,fontSize:12,fill:"#000",label:null}),
    Plot.text(europeRows,{x:"v",y:"c",text:d=>d.v.toFixed(1),dx:10,textAnchor:"start",fontSize:11.5,fontFamily:"Lato",fontWeight:500,fill:"#111"})
  ]
});
place(right,340,0);

// ---------- bar legends ----------
const leftLabels = ["Czech Republic (CR)","European countries","other countries"];
leftLabels.forEach((s,i)=>{ swatch(barColours[i],101.5,611.5+i*17,10,9); text(s,116.5,609+i*17,{fontSize:"12px"}); });
text('CR ranking <b>30th globally</b>',101.5,660,{fontSize:"12px"});
const rightLabels = ["Czech Republic (CR)","neighbouring countries","other European countries"];
rightLabels.forEach((s,i)=>{ swatch(barColours[i],609,611.5+i*17,11,9); text(s,624,609+i*17,{fontSize:"12px"}); });
text('CR ranking <b>17th in Europe</b>',609,660,{fontSize:"12px"});

// ---------- world map ----------
const worldTop = 810;
const worldProjection = d3.geoTransform({point(lon,lat){
  this.stream.point(277+lon*1.45*(1-0.13*(lat/65)*(lat/65)), 956-worldTop-lat*(lat<0?1.53:1.6));
}});
const worldFeatures = [...northAmerica,...southAmerica,...africa,...asiaOceania].map(d=>feature(d[1],d[2]))
  .concat(europeShapes.map(d=>feature(d[1],d[3])));
const world = Plot.plot({
  width:530,height:240,margin:0,projection:worldProjection,
  color:{domain:mapClasses,range:mapColours},
  marks:[Plot.geo(worldFeatures,{fill:d=>d.properties.cls,stroke:"#8f7d75",strokeWidth:0.5})]
});
place(world,0,worldTop);

// ---------- Europe inset ----------
const insetLeft = 525, insetTop = 810;
const insetProjection = d3.geoTransform({point(lon,lat){
  this.stream.point(568-insetLeft+(lon+13)*(3.82-0.0106*(lat-37)), 959-insetTop-(lat-37)*4.3);
}});
const insetFeatures = insetGrey.map(d=>feature(5,d[1]));
const insetCountries = europeShapes.map(d=>feature(d[2],d[3]));
const inset = Plot.plot({
  width:257,height:160,margin:0,projection:insetProjection,
  color:{domain:mapClasses,range:mapColours},
  marks:[
    Plot.geo(insetFeatures,{fill:d=>d.properties.cls,stroke:"#fff",strokeWidth:1}),
    Plot.dot(insetDots,{x:d=>d[0],y:d=>d[1],r:3,fill:"#dcdcdc"}),
    Plot.geo(insetCountries,{fill:d=>d.properties.cls,stroke:"#777",strokeWidth:1})
  ]
});
place(inset,insetLeft,insetTop);

// ---------- map legends ----------
worldLegend.forEach((s,i)=>{ swatch(mapColours[i],50,991+i*14.4,17,9); text(s,76,988+i*14.4,{fontSize:"12px"}); });
europeLegend.forEach((s,i)=>{ swatch(mapColours[i],565,978+i*13.6,18,9); text(s,591,975+i*13.6,{fontSize:"12px"}); });
</script>
</body>
</html>
